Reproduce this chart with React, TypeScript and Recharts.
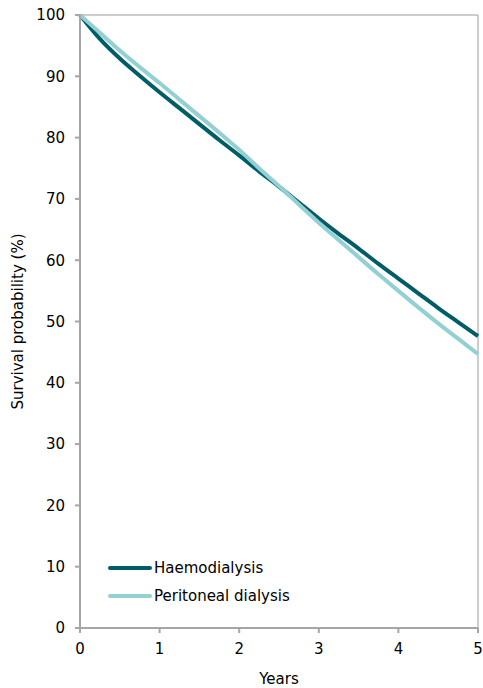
import React from 'react';
import { LineChart, Line, XAxis, YAxis, ReferenceLine } from 'recharts';

const years = [0, 0.25, 0.5, 0.75, 1, 1.25, 1.5, 1.75, 2, 2.25, 2.5, 2.75, 3, 3.25, 3.5, 3.75, 4, 4.25, 4.5, 4.75, 5];
const haemodialysis = [100, 96.1, 92.9, 90.1, 87.4, 84.8, 82.2, 79.6, 77.1, 74.5, 72.0, 69.4, 66.8, 64.3, 61.9, 59.4, 57.0, 54.6, 52.2, 49.9, 47.6];
const peritoneal = [100, 97.1, 94.2, 91.5, 88.9, 86.2, 83.5, 80.8, 78.0, 75.0, 72.1, 69.1, 66.1, 63.3, 60.5, 57.7, 55.0, 52.3, 49.7, 47.2, 44.7];
const yTicks = [0, 10, 20, 30, 40, 50, 60, 70, 80, 90, 100];
const xTicks = [0, 1, 2, 3, 4, 5];

const SERIES = [
  { key: 'haemo', name: 'Haemodialysis', color: '#005d67' },
  { key: 'perit', name: 'Peritoneal dialysis', color: '#93d0d3' },
];

const data = years.map((year, i) => ({ year, haemo: haemodialysis[i], perit: peritoneal[i] }));

const FONT = 'Verdana, "DejaVu Sans", sans-serif';
const AXIS = '#a6a6a6';

// legend sits inside the plot, bottom-left
const LegendBox = () => (
  <div style={{ position: 'absolute', left: 108, top: 554, fontFamily: FONT, fontSize: 15, color: '#000' }}>
    {SERIES.map((s) => (
      <div key={s.key} style={{ display: 'flex', alignItems: 'center', height: 28 }}>
        <svg width={44} height={8}>
          <line x1={2} y1={4} x2={42} y2={4} stroke={s.color} strokeWidth={4} strokeLinecap="round" />
        </svg>
        <span style={{ marginLeft: 2 }}>{s.name}</span>
      </div>
    ))}
  </div>
);

export default function App() {
  return (
    <div style={{ position: 'absolute', left: 0, top: 0, width: 483, height: 688, background: '#fff' }}>
      <LineChart width={483} height={688} data={data} margin={{ top: 15, right: 5, left: 10, bottom: 4 }}>
        <XAxis
          dataKey="year"
          type="number"
          domain={[0, 5]}
          ticks={xTicks}
          stroke={AXIS}
          strokeWidth={2}
          tickSize={5}
          tickMargin={10}
          tick={{ fill: '#000', fontSize: 15, fontFamily: FONT }}
          height={56}
          label={{ value: 'Years', position: 'insideBottom', offset: 0, fill: '#000', fontSize: 15, fontFamily: FONT }}
        />
        <YAxis
          type="number"
          domain={[0, 100]}
          ticks={yTicks}
          stroke={AXIS}
          strokeWidth={2}
          tickSize={5}
          tickMargin={10}
          width={70}
          tick={{ fill: '#000', fontSize: 15, fontFamily: FONT }}
          label={{
            value: 'Survival probability (%)',
            angle: -90,
            position: 'insideLeft',
            offset: 8,
            style: { textAnchor: 'middle' },
            fill: '#000',
            fontSize: 15,
            fontFamily: FONT,
          }}
        />
        <ReferenceLine y={100} stroke="#bdbdbd" strokeWidth={1.5} />
        <ReferenceLine x={5} stroke="#bdbdbd" strokeWidth={1.5} />
        {SERIES.map((s) => (
          <Line
            key={s.key}
            dataKey={s.key}
            name={s.name}
            stroke={s.color}
            strokeWidth={4}
            dot={false}
            type="monotone"
            isAnimationActive={false}
          />
        ))}
      </LineChart>
      <LegendBox />
    </div>
  );
}
